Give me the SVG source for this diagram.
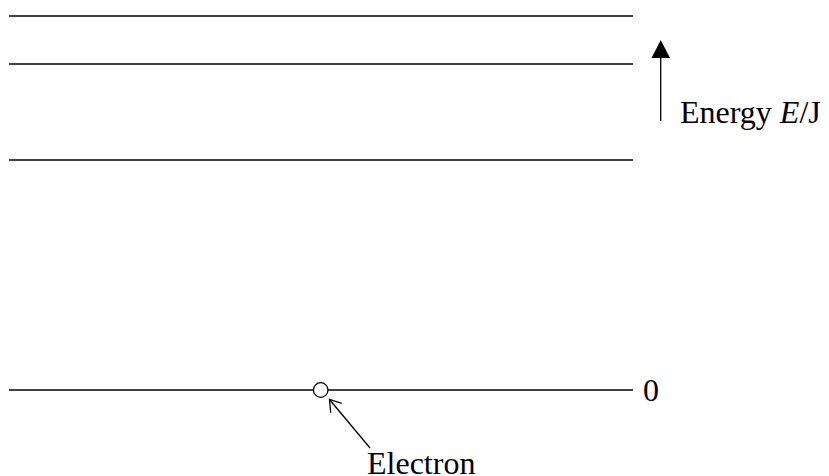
<svg xmlns="http://www.w3.org/2000/svg" width="829" height="476" viewBox="0 0 829 476">
<style>
.lvl{stroke:#000;stroke-width:1.3;fill:none}
.t{font-family:"Liberation Serif","Times New Roman",serif;fill:#000;font-size:32px}
</style>
<rect width="829" height="476" fill="#fff"/>
<g id="levels">
<line class="lvl" x1="9" y1="16" x2="633" y2="16"/>
<line class="lvl" x1="9" y1="64" x2="633" y2="64"/>
<line class="lvl" x1="9" y1="160" x2="633" y2="160"/>
<line class="lvl" x1="9" y1="390" x2="633" y2="390"/>
</g>
<g id="energy-axis">
<line class="lvl" x1="660.7" y1="121" x2="660.7" y2="58"/>
<path d="M660.7,40 L651.5,58 L670,58 Z" fill="#000"/>
<text class="t" x="680" y="123">Energy <tspan font-style="italic">E</tspan>/J</text>
</g>
<g id="zero-label">
<text class="t" x="643" y="400.5">0</text>
</g>
<g id="electron">
<circle cx="320.7" cy="390" r="7.3" fill="#fff" stroke="#000" stroke-width="1.3"/>
<line class="lvl" x1="370" y1="448" x2="329.5" y2="399.5"/>
<path class="lvl" d="M341.8,403.3 L329.5,399.5 L330.7,412.7"/>
<text class="t" x="367" y="474">Electron</text>
</g>
</svg>
